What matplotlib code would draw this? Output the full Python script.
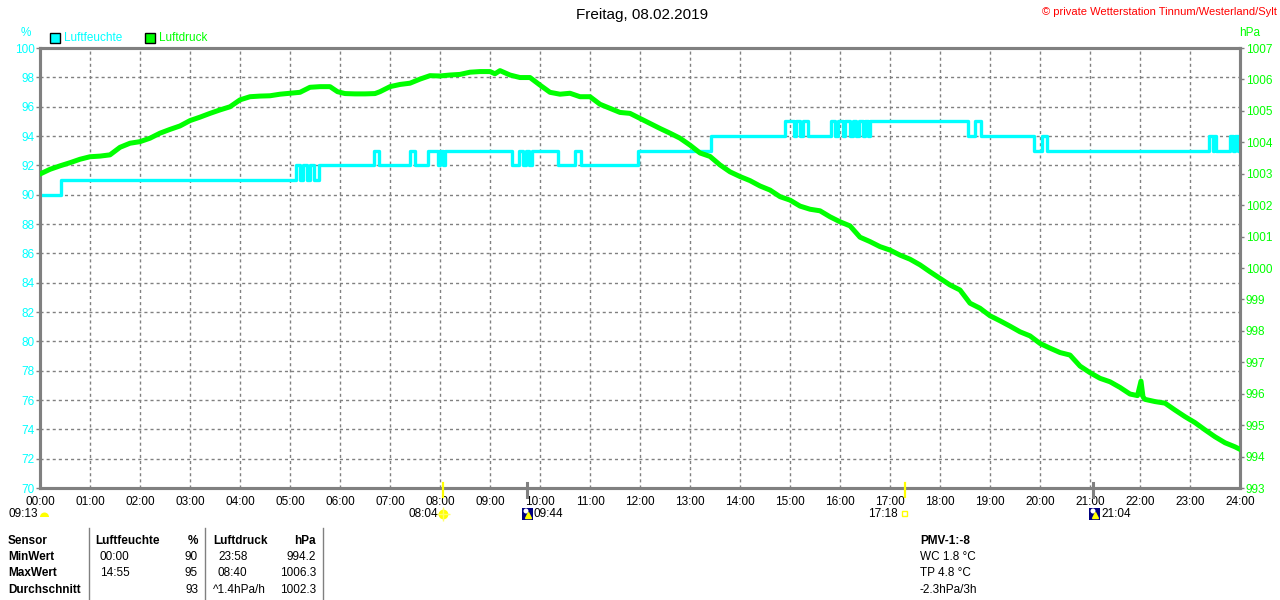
import matplotlib
matplotlib.use("Agg")
import matplotlib.pyplot as plt
from matplotlib.patches import Rectangle, Wedge, Circle

# humidity steps (hour of change, value from there on)
hum_hours = [0.0, 0.42, 5.12, 5.20, 5.25, 5.33, 5.40, 5.47, 5.57, 6.67, 6.77,
             7.40, 7.49, 7.75, 7.95, 8.00, 8.05, 8.10, 9.43, 9.57, 9.65, 9.72,
             9.78, 9.83, 10.35, 10.69, 10.81, 11.95, 13.42, 14.89, 15.07, 15.12,
             15.20, 15.25, 15.35, 15.81, 15.90, 15.95, 16.05, 16.10, 16.20,
             16.25, 16.32, 16.37, 16.45, 16.50, 16.56, 16.60, 18.55, 18.69,
             18.83, 19.88, 20.03, 20.14, 23.38, 23.45, 23.48, 23.52, 23.80,
             23.85, 23.90, 23.95, 24.0]
hum_values = [90, 91, 92, 91, 92, 91, 92, 91, 92, 93, 92,
              93, 92, 93, 92, 93, 92, 93, 92, 93, 92, 93,
              92, 93, 92, 93, 92, 93, 94, 95, 94, 95,
              94, 95, 94, 95, 94, 95, 94, 95, 94,
              95, 94, 95, 94, 95, 94, 95, 94, 95,
              94, 93, 94, 93, 94, 93, 94, 93, 94,
              93, 94, 93, 93]

# air pressure readings (hour, hPa)
pres_hours = [0.0, 0.2, 0.4, 0.6, 0.8, 1.0, 1.2, 1.4, 1.6, 1.8, 2.0, 2.2, 2.4,
              2.6, 2.8, 3.0, 3.2, 3.4, 3.6, 3.8, 4.0, 4.2, 4.4, 4.6, 4.8, 5.0,
              5.2, 5.4, 5.6, 5.8, 5.95, 6.1, 6.3, 6.5, 6.7, 6.8, 7.0, 7.2, 7.4,
              7.6, 7.8, 8.0, 8.2, 8.4, 8.6, 8.8, 9.0, 9.1, 9.2, 9.4, 9.6, 9.8,
              10.0, 10.2, 10.4, 10.6, 10.8, 11.0, 11.2, 11.4, 11.6, 11.8, 12.0,
              12.2, 12.4, 12.6, 12.8, 13.0, 13.2, 13.4, 13.6, 13.8, 14.0, 14.2,
              14.4, 14.6, 14.8, 15.0, 15.2, 15.4, 15.6, 15.8, 16.0, 16.2, 16.4,
              16.6, 16.8, 17.0, 17.2, 17.4, 17.6, 17.8, 18.0, 18.2, 18.4, 18.6,
              18.8, 19.0, 19.2, 19.4, 19.6, 19.8, 20.0, 20.2, 20.4, 20.6, 20.8,
              21.0, 21.2, 21.4, 21.6, 21.8, 21.95, 22.02, 22.06, 22.1, 22.3,
              22.5, 22.7, 22.9, 23.1, 23.3, 23.5, 23.7, 23.9, 24.0]
pres_values = [1002.99, 1003.14, 1003.25, 1003.35, 1003.46, 1003.54, 1003.56,
               1003.60, 1003.84, 1003.97, 1004.02, 1004.13, 1004.29, 1004.41,
               1004.52, 1004.69, 1004.80, 1004.92, 1005.03, 1005.13, 1005.35,
               1005.45, 1005.47, 1005.48, 1005.53, 1005.56, 1005.59, 1005.75,
               1005.77, 1005.77, 1005.61, 1005.55, 1005.54, 1005.54, 1005.55,
               1005.61, 1005.77, 1005.84, 1005.88, 1006.01, 1006.12, 1006.11,
               1006.14, 1006.16, 1006.23, 1006.25, 1006.25, 1006.18, 1006.28,
               1006.14, 1006.06, 1006.06, 1005.82, 1005.59, 1005.53, 1005.56,
               1005.45, 1005.45, 1005.21, 1005.08, 1004.95, 1004.92, 1004.76,
               1004.60, 1004.44, 1004.29, 1004.13, 1003.91, 1003.66, 1003.55,
               1003.28, 1003.06, 1002.91, 1002.78, 1002.61, 1002.48, 1002.27,
               1002.16, 1001.97, 1001.87, 1001.82, 1001.63, 1001.47, 1001.34,
               1000.98, 1000.84, 1000.68, 1000.57, 1000.41, 1000.28, 1000.10,
               999.88, 999.67, 999.46, 999.30, 998.88, 998.72, 998.48, 998.32,
               998.15, 997.97, 997.84, 997.60, 997.45, 997.31, 997.23, 996.88,
               996.67, 996.49, 996.38, 996.20, 995.99, 995.94, 996.40, 995.90,
               995.82, 995.75, 995.70, 995.48, 995.27, 995.08, 994.85, 994.63,
               994.44, 994.31, 994.23]

hour_labels = ["%02d:00" % h for h in range(25)]
hum_ticks = list(range(70, 101, 2))
pres_ticks = list(range(993, 1008))

# sun / moon events below the time axis
sun_events = [8 + 4 / 60, 17 + 18 / 60]
moon_events = [9 + 44 / 60, 21 + 4 / 60]

table_rows = ["Sensor", "MinWert", "MaxWert", "Durchschnitt"]
hum_times = ["", "00:00", "14:55", ""]
hum_stats = ["%", "90", "95", "93"]
pres_times = ["Luftdruck", "23:58", "08:40", "^1.4hPa/h"]
pres_stats = ["hPa", "994.2", "1006.3", "1002.3"]
extra_lines = ["PMV-1:-8", "WC 1.8 °C", "TP 4.8 °C", "-2.3hPa/3h"]

CYAN = "#00ffff"
GREEN = "#00ff00"
GRAY = "#808080"
plt.rcParams["font.family"] = ["Liberation Sans", "DejaVu Sans"]

fig = plt.figure(figsize=(12.8, 6), dpi=100)
ax = fig.add_axes([40 / 1280, 1 - 488 / 600, 1200 / 1280, 440 / 600])
ax2 = ax.twinx()

ax.set_xlim(0, 24)
ax.set_ylim(70, 100)
ax2.set_ylim(993, 1007)

for h in range(1, 24):
    ax.axvline(h, color=GRAY, lw=1, ls=(0, (2.2, 2.2)), zorder=1)
for v in hum_ticks[1:-1]:
    ax.axhline(v, color=GRAY, lw=1, ls=(0, (2.2, 2.2)), zorder=1)

ax.plot(hum_hours, hum_values, color=CYAN, lw=2.4, drawstyle="steps-post",
        zorder=3)
ax2.plot(pres_hours, pres_values, color=GREEN, lw=3.6, zorder=3)

for a in (ax, ax2):
    for s in a.spines.values():
        s.set_color(GRAY)
        s.set_linewidth(2.2)

ax.set_xticks(range(25))
ax.set_xticklabels(hour_labels, fontsize=8.5)
ax.tick_params(axis="x", length=0, pad=6)
ax.set_yticks(hum_ticks)
ax.tick_params(axis="y", colors=GRAY, labelcolor=CYAN, labelsize=8.5,
               length=3, width=1, pad=1)
ax2.set_yticks(pres_ticks)
ax2.tick_params(axis="y", colors=GRAY, labelcolor=GREEN, labelsize=8.5,
                length=3, width=1, pad=1)

# page overlay in pixel coordinates for headings, legend, table
page = fig.add_axes([0, 0, 1, 1], zorder=5)
page.set_xlim(0, 1280)
page.set_ylim(600, 0)
page.set_axis_off()

page.text(642, 15, "Freitag, 08.02.2019", fontsize=11, ha="center",
          va="center")
page.text(1277, 12, "© private Wetterstation Tinnum/Westerland/Sylt",
          fontsize=8, color="red", ha="right", va="center")
page.text(26, 33, "%", fontsize=8.5, color=CYAN, ha="center", va="center")
page.text(1250, 33, "hPa", fontsize=8.5, color=GREEN, ha="center",
          va="center")

page.add_patch(Rectangle((50, 33), 10, 10, fc=CYAN, ec="black", lw=1))
page.text(64, 38, "Luftfeuchte", fontsize=8.5, color=CYAN, va="center")
page.add_patch(Rectangle((145, 33), 10, 10, fc=GREEN, ec="black", lw=1))
page.text(159, 38, "Luftdruck", fontsize=8.5, color=GREEN, va="center")

# sunrise / sunset and moon markers
def xpix(hour):
    return 40 + hour * 1200 / 24

for t in sun_events:
    page.plot([xpix(t)] * 2, [483, 497], color="#ffff00", lw=1.6)
for t in moon_events:
    page.plot([xpix(t)] * 2, [483, 497], color=GRAY, lw=2.2)

page.text(38, 514, "09:13", fontsize=8.5, ha="right", va="center")
page.add_patch(Wedge((44.5, 517), 4.5, 180, 360, fc="#ffff00", ec="none"))
page.text(438, 514, "08:04", fontsize=8.5, ha="right", va="center")
page.plot([xpix(sun_events[0])], [514], marker="o", ms=6, color="#ffff00")
page.plot([xpix(sun_events[0])], [514], marker="+", ms=10, color="#ffff66",
          mew=1)
page.text(898, 514, "17:18", fontsize=8.5, ha="right", va="center")
page.add_patch(Rectangle((902, 511), 5, 5, fc="none", ec="#ffff00", lw=1))
for x0, lab in ((522, "09:44"), (1089, "21:04")):
    page.add_patch(Rectangle((x0, 508), 11, 12, fc="#000080", ec="none"))
    page.add_patch(Circle((x0 + 4, 511), 2.5, fc="white", ec="none"))
    page.plot([x0 + 6], [515], marker="^", ms=4, color="#ffff00")
    page.text(x0 + 12, 514, lab, fontsize=8.5, ha="left", va="center")

# statistics table
row_y = [541, 557, 573, 590]
for i, y in enumerate(row_y):
    head = "bold" if i == 0 else "normal"
    page.text(8, y, table_rows[i], fontsize=8.5, fontweight="bold",
              va="center")
    if i == 0:
        page.text(95, y, "Luftfeuchte", fontsize=8.5, fontweight="bold",
                  va="center")
    else:
        page.text(100, y, hum_times[i], fontsize=8.5, va="center")
    page.text(198, y, hum_stats[i], fontsize=8.5, ha="right", va="center",
              fontweight=head)
    page.text(213 if i in (0, 3) else 218, y, pres_times[i], fontsize=8.5,
              va="center", fontweight=head)
    page.text(316, y, pres_stats[i], fontsize=8.5, ha="right", va="center",
              fontweight=head)
    page.text(920, y, extra_lines[i], fontsize=8.5, va="center",
              fontweight=head)

for xs in (89, 205, 323):
    page.plot([xs, xs], [528, 600], color=GRAY, lw=1)

fig.savefig("out.png", dpi=100)
